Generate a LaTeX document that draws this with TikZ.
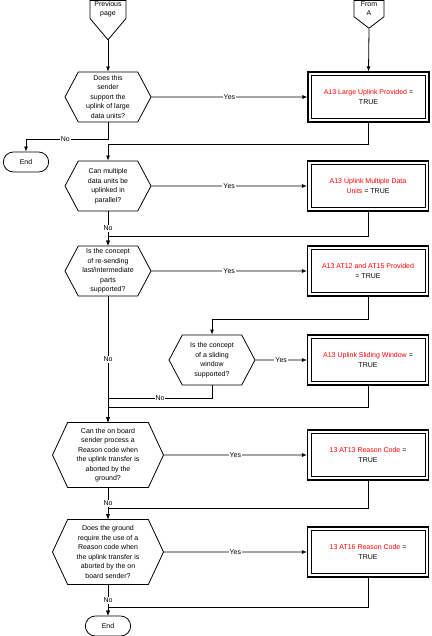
\documentclass[tikz,border=0pt]{standalone}
\usepackage{fontspec}
\setmainfont{Liberation Sans}
\usetikzlibrary{positioning,shapes.symbols,shapes.misc,arrows.meta}

\newcommand{\icsref}[1]{\textcolor{red}{#1}}

\begin{document}
\begin{tikzpicture}
[
  x=1pt, y=-1pt,
  on grid,
  font=\fontsize{7}{9.5}\selectfont,
  line width=0.8pt,
  >={Latex[length=5pt,width=4pt]},
  decision/.style={draw, shape=signal, signal to=east and west, signal pointer angle=124,
    align=center, inner sep=0pt, minimum width=86pt, minimum height=50pt},
  bigdecision/.style={decision, signal pointer angle=130, minimum width=111pt, minimum height=65pt},
  result/.style={draw, line width=1.2pt, align=center, inner sep=2pt,
    minimum width=121pt, minimum height=50pt},
  offpage/.style={draw, shape=signal, signal to=south, signal pointer angle=80,
    align=center, inner sep=1pt, anchor=north},
  terminal/.style={draw, rounded rectangle, minimum width=52pt, minimum height=20pt},
  lbl/.style={fill=white, inner sep=1pt}
]
 \useasboundingbox (0,0) rectangle (431,636);

 % decisions down the left, results on the right
 \node[offpage, minimum width=36pt] (prev) at (108,0) {Previous\\page};
 \node[offpage, minimum width=30pt, signal pointer angle=105] (froma) at (369,0) {From\\A};

 \node[decision] (d1) at (108,97) {Does this\\sender\\support the\\uplink of large\\data units?};
 \node[result] (b1) [right=260.5pt of d1] {\icsref{A13 Large Uplink Provided} =\\TRUE};
 \node[terminal] (end1) [below left=65pt and 82pt of d1] {End};

 \node[decision] (d2) [below=89pt of d1] {Can multiple\\data units be\\uplinked in\\parallel?};
 \node[result] (b2) [right=260pt of d2] {\icsref{A13 Uplink Multiple Data}\\\icsref{Units} = TRUE};

 \node[decision] (d3) [below=85pt of d2] {Is the concept\\of re-sending\\last/intermediate\\parts\\supported?};
 \node[result] (b3) [right=260pt of d3] {\icsref{A13 AT12 and AT15 Provided}\\= TRUE};

 \node[decision] (d4) [below right=89pt and 104pt of d3] {Is the concept\\of a sliding\\window\\supported?};
 \node[result] (b4) [right=156pt of d4] {\icsref{A13 Uplink Sliding Window} =\\TRUE};

 \node[bigdecision] (d5) [below=184pt of d3] {Can the on board\\sender process a\\Reason code when\\the uplink transfer is\\aborted by the\\ground?};
 \node[result] (b5) [right=260pt of d5] {\icsref{13 AT13 Reason Code} =\\TRUE};

 \node[bigdecision] (d6) [below=97pt of d5] {Does the ground\\require the use of a\\Reason code when\\the uplink transfer is\\aborted by the on\\board sender?};
 \node[result] (b6) [right=260pt of d6] {\icsref{13 AT16 Reason Code} =\\TRUE};

 \node[terminal] (end2) [below=74pt of d6] {End};

 % inner frame of the result boxes
 \foreach \b in {b1,b2,b3,b4,b5,b6}
   \draw ([shift={(4,4)}]\b.north west) rectangle ([shift={(-4,-4)}]\b.south east);

 \draw[->] (prev.south) -- (d1.north);
 \draw[->] (froma.south) -- (b1.north);

 % yes branches
 \path[->]
   (d1) edge node[lbl] {Yes} (b1)
   (d2) edge node[lbl] {Yes} (b2)
   (d3) edge node[lbl] {Yes} (b3)
   (d4) edge node[lbl] {Yes} (b4)
   (d5) edge node[lbl] {Yes} (b5)
   (d6) edge node[lbl] {Yes} (b6);

 % no branches
 \draw[->] (d1.south) -- ++(0,17) -| node[lbl, pos=.26] {No} (end1.north);
 \draw[->] (d2.south) -- node[lbl] {No} (d3.north);
 \draw[->] (d3.south) -- node[lbl] {No} (d5.north);
 \draw[->] (d4.south) -- ++(0,13) -| node[lbl, pos=.25] {No} (d5.north);
 \draw[->] (d5.south) -- node[lbl] {No} (d6.north);
 \draw[->] (d6.south) -- node[lbl] {No} (end2.north);

 % back from the results
 \draw[->] (b1.south) -- ++(0,22) -| (d2.north);
 \draw[->] (b2.south) -- ++(0,25) -| (d3.north);
 \draw[->] (b3.south) -- ++(0,23) -| (d4.north);
 \draw[->] (b4.south) -- ++(0,22) -| (d5.north);
 \draw[->] (b5.south) -- ++(0,28) -| (d6.north);
 \draw[->] (b6.south) -- ++(0,30) -| (end2.north);
\end{tikzpicture}
\end{document}
